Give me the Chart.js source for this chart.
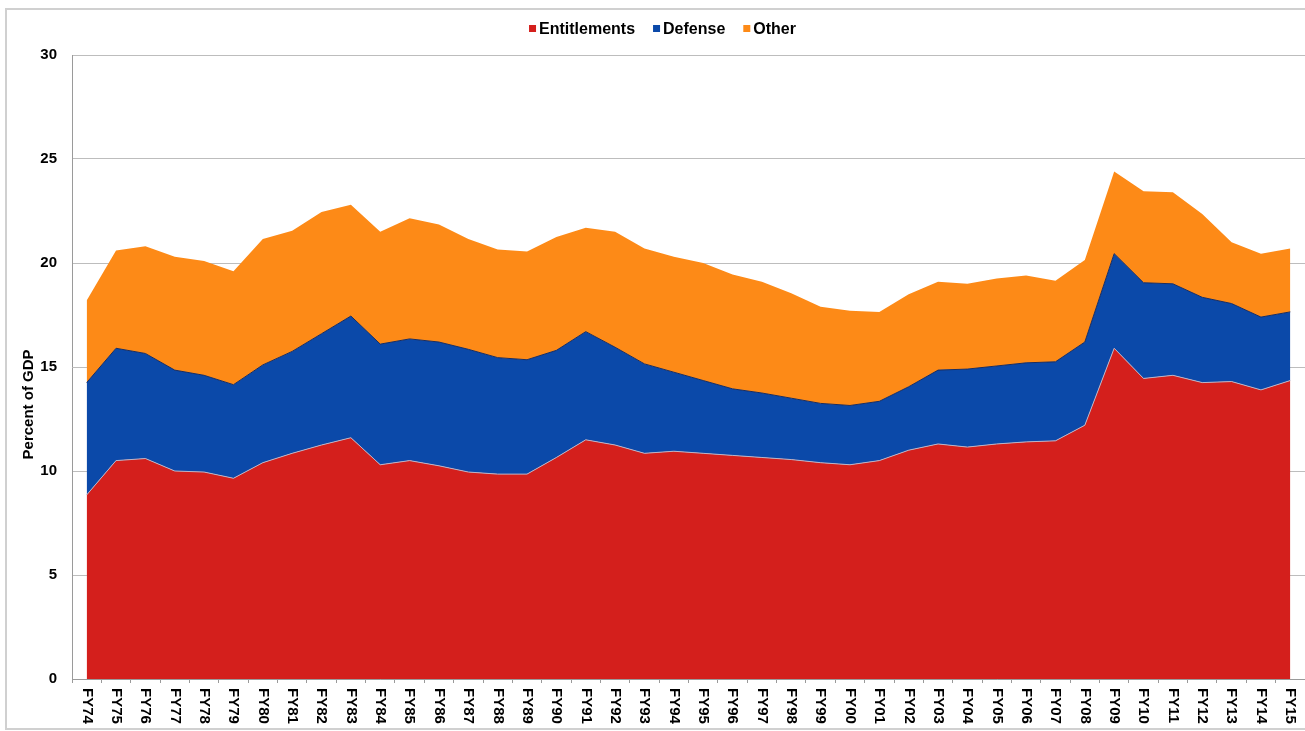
<!DOCTYPE html>
<html>
<head>
<meta charset="utf-8">
<title>Spending as a percent of GDP</title>
<script src="https://cdn.jsdelivr.net/npm/chart.js@4.4.1/dist/chart.umd.min.js"></script>
<style>
	html, body { margin: 0; padding: 0; background: #fff; overflow: hidden; }
	#frame { position: absolute; left: 5px; top: 8px; width: 1400px; height: 722px; border: 2px solid #d0d0d0; box-sizing: border-box; }
	#wrap { position: absolute; left: 0; top: 0; width: 1305px; height: 731px; }
</style>
</head>
<body>
<div id="frame"></div>
<div id="wrap"><canvas id="spending"></canvas></div>
<script>
var years = ['FY74','FY75','FY76','FY77','FY78','FY79','FY80','FY81','FY82','FY83',
	'FY84','FY85','FY86','FY87','FY88','FY89','FY90','FY91','FY92','FY93',
	'FY94','FY95','FY96','FY97','FY98','FY99','FY00','FY01','FY02','FY03',
	'FY04','FY05','FY06','FY07','FY08','FY09','FY10','FY11','FY12','FY13',
	'FY14','FY15'];

// percent of GDP, stacked bottom to top
var entitlements = [8.85, 10.5, 10.6, 10.0, 9.95, 9.65, 10.4, 10.85, 11.25, 11.6,
	10.3, 10.5, 10.25, 9.95, 9.85, 9.85, 10.65, 11.5, 11.25, 10.85,
	10.95, 10.85, 10.75, 10.65, 10.55, 10.4, 10.3, 10.5, 11.0, 11.3,
	11.15, 11.3, 11.4, 11.45, 12.2, 15.9, 14.45, 14.6, 14.25, 14.3,
	13.9, 14.35];
var defense = [5.4, 5.4, 5.05, 4.85, 4.65, 4.5, 4.7, 4.9, 5.35, 5.85,
	5.8, 5.85, 5.95, 5.9, 5.6, 5.5, 5.15, 5.2, 4.7, 4.3,
	3.8, 3.5, 3.2, 3.1, 2.95, 2.85, 2.85, 2.85, 3.05, 3.55,
	3.75, 3.75, 3.8, 3.8, 4.0, 4.55, 4.6, 4.4, 4.1, 3.75,
	3.5, 3.3];
var other = [3.95, 4.7, 5.15, 5.45, 5.5, 5.45, 6.05, 5.8, 5.85, 5.35,
	5.4, 5.8, 5.65, 5.3, 5.2, 5.2, 5.45, 5.0, 5.55, 5.55,
	5.55, 5.65, 5.5, 5.35, 5.05, 4.65, 4.55, 4.3, 4.45, 4.25,
	4.1, 4.2, 4.2, 3.9, 3.95, 3.95, 4.4, 4.4, 4.0, 2.95,
	3.05, 3.05];

var yMax = 30;
var yStep = 5;
var yTitle = 'Percent of GDP';

var FONT = '"Liberation Sans", Arial, sans-serif';

// legend row above the plot: small square + bold name
var topLegend = {
	id: 'topLegend',
	afterDraw: function(chart){
		var ctx = chart.ctx;
		var sets = chart.data.datasets;
		var box = 7, gap = 3, space = 18;
		ctx.save();
		ctx.font = 'bold 16px ' + FONT;
		ctx.textBaseline = 'middle';
		var total = 0;
		sets.forEach(function(ds, i){
			total += box + gap + ctx.measureText(ds.label).width;
			if (i < sets.length - 1) total += space;
		});
		var x = chart.width / 2 + 10 - total / 2;
		var y = 29;
		sets.forEach(function(ds){
			ctx.fillStyle = ds.backgroundColor;
			ctx.fillRect(x, y - 4, box, box);
			x += box + gap;
			ctx.fillStyle = '#000';
			ctx.fillText(ds.label, x, y + 1);
			x += ctx.measureText(ds.label).width + space;
		});
		ctx.restore();
	}
};

// year labels turned to read downwards, plus the y axis title
var axisText = {
	id: 'axisText',
	afterDraw: function(chart){
		var ctx = chart.ctx;
		var xs = chart.scales.x;
		var area = chart.chartArea;
		ctx.save();
		ctx.fillStyle = '#000';
		ctx.font = 'bold 15px ' + FONT;
		ctx.textAlign = 'left';
		ctx.textBaseline = 'middle';
		xs.ticks.forEach(function(t, i){
			ctx.save();
			ctx.translate(xs.getPixelForTick(i), xs.top + 9);
			ctx.rotate(Math.PI / 2);
			ctx.fillText(years[i], 0, 0);
			ctx.restore();
		});

		ctx.translate(29, area.top + (area.bottom - area.top) * 0.56);
		ctx.rotate(-Math.PI / 2);
		ctx.textAlign = 'center';
		ctx.fillText(yTitle, 0, 0);
		ctx.restore();
	}
};

new Chart(document.getElementById('spending'), {
	type: 'line',
	data: {
		labels: years,
		datasets: [{
			label: 'Entitlements',
			data: entitlements,
			backgroundColor: '#d41f1c',
			borderColor: '#b9b4c8',
			borderWidth: 1,
			fill: 'origin'
		}, {
			label: 'Defense',
			data: defense,
			backgroundColor: '#0b49a9',
			borderColor: '#1c2c5c',
			borderWidth: 1,
			fill: '-1'
		}, {
			label: 'Other',
			data: other,
			backgroundColor: '#fd8a17',
			borderColor: '#fd8a17',
			borderWidth: 0,
			fill: '-1'
		}]
	},
	options: {
		responsive: true,
		maintainAspectRatio: false,
		animation: false,
		layout: { padding: { top: 55, right: 0, bottom: 0, left: 0 } },
		elements: {
			point: { radius: 0, hoverRadius: 0 },
			line: { tension: 0 }
		},
		plugins: {
			legend: { display: false },
			tooltip: { enabled: false }
		},
		scales: {
			x: {
				offset: true,
				grid: { offset: true, drawOnChartArea: false, tickLength: 4, color: '#9a9a9a' },
				border: { color: '#9a9a9a' },
				// labels are drawn by axisText so they can read top to bottom
				ticks: { display: false, autoSkip: false },
				afterFit: function(scale){ scale.height = 52; }
			},
			y: {
				stacked: true,
				min: 0,
				max: yMax,
				grid: { color: '#bdbdbd', drawTicks: false },
				border: { color: '#9a9a9a' },
				ticks: {
					stepSize: yStep,
					padding: 15,
					color: '#000',
					font: { family: FONT, size: 15, weight: 'bold' }
				},
				afterFit: function(scale){ scale.width = 72; }
			}
		}
	},
	plugins: [topLegend, axisText]
});
</script>
</body>
</html>
